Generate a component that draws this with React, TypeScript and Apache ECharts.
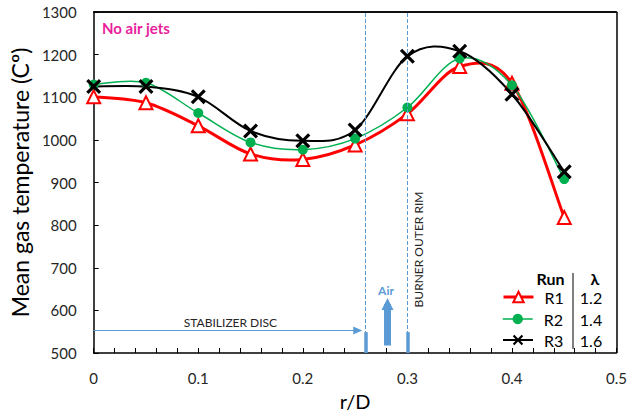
import React, { useEffect, useRef } from "react";
import * as echarts from "echarts";

const xVals = [0, 0.05, 0.1, 0.15, 0.2, 0.25, 0.3, 0.35, 0.4, 0.45];
const r1 = [1101, 1087, 1033, 967, 954, 988, 1061, 1172, 1133, 818];
const r2 = [1130, 1134, 1063, 994, 977, 1003, 1076, 1191, 1128, 908];
const r3 = [1125, 1125, 1101, 1021, 998, 1023, 1196, 1208, 1107, 925];
const runNames = ["R1", "R2", "R3"];
const lambdas = ["1.2", "1.4", "1.6"];
const guideX = [0.26, 0.3];

const FONT = "Lato, 'Open Sans', sans-serif";
const BLUE = "#5b9bd5";
const COLORS = ["#ff0000", "#00b050", "#000000"];
const WIDTHS = [3, 1.5, 2];
const XPATH =
  "path://M0,3 L3,0 L10,7 L17,0 L20,3 L13,10 L20,17 L17,20 L10,13 L3,20 L0,17 L7,10 Z";

// Excel-like smoothed curve (Catmull-Rom, tension 1/6) through library coords
function curveSeries(name: string, ys: number[], color: string, width: number) {
  return {
    name,
    type: "custom",
    silent: true,
    z: 2,
    data: xVals.map((x, i) => [x, ys[i]]),
    encode: { x: 0, y: 1 },
    renderItem: (params: any, api: any) => {
      if (params.dataIndex !== 0) return null;
      const p = xVals.map((x, i) => api.coord([x, ys[i]]));
      let d = `M${p[0][0]},${p[0][1]}`;
      for (let i = 0; i < p.length - 1; i++) {
        const p0 = p[Math.max(0, i - 1)];
        const p1 = p[i];
        const p2 = p[i + 1];
        const p3 = p[Math.min(p.length - 1, i + 2)];
        const c1x = p1[0] + (p2[0] - p0[0]) / 6;
        const c1y = p1[1] + (p2[1] - p0[1]) / 6;
        const c2x = p2[0] - (p3[0] - p1[0]) / 6;
        const c2y = p2[1] - (p3[1] - p1[1]) / 6;
        d += ` C${c1x},${c1y} ${c2x},${c2y} ${p2[0]},${p2[1]}`;
      }
      return {
        type: "path",
        shape: { pathData: d },
        style: { fill: "none", stroke: color, lineWidth: width },
      };
    },
  };
}

export default function App() {
  const ref = useRef<HTMLDivElement>(null);
  useEffect(() => {
    const chart = echarts.init(ref.current!, null, { renderer: "svg" });
    const pairs = (ys: number[]) => xVals.map((x, i) => [x, ys[i]]);
    const rowY = [297, 319, 340];
    const symbols = ["emptyTriangle", "circle", XPATH];
    const sizes = [13, 10, 15];
    const allY = [r1, r2, r3];
    const dashStyle = { color: BLUE, type: "dashed", width: 1 };
    const frameStyle = { color: "#000", type: "solid", width: 1.5 };
    chart.setOption({
      animation: false,
      grid: { left: 90, right: 13, top: 12, bottom: 61 },
      xAxis: [
        {
          type: "value",
          min: 0,
          max: 0.5,
          interval: 0.1,
          name: "r/D",
          nameLocation: "middle",
          nameGap: 38,
          nameTextStyle: { fontSize: 20, color: "#000", fontFamily: FONT },
          axisLine: { onZero: false, lineStyle: { color: "#000", width: 1.5 } },
          axisTick: { inside: true, length: 5, lineStyle: { color: "#000" } },
          minorTick: { show: true, splitNumber: 5, length: 5, lineStyle: { color: "#000" } },
          axisLabel: { fontSize: 15, color: "#262626", fontFamily: FONT, margin: 17 },
          splitLine: { show: false },
        },
        {
          type: "value",
          position: "top",
          min: 0,
          max: 0.5,
          axisLine: { show: true, onZero: false, lineStyle: { color: "#000", width: 1.5 } },
          axisTick: { show: false },
          axisLabel: { show: false },
          splitLine: { show: false },
        },
      ],
      yAxis: {
        type: "value",
        min: 500,
        max: 1300,
        interval: 100,
        name: "Mean gas temperature (Cº)",
        nameLocation: "middle",
        nameGap: 53,
        nameTextStyle: { fontSize: 23, color: "#000", fontFamily: FONT },
        axisLine: { show: true, onZero: false, lineStyle: { color: "#000", width: 1.5 } },
        axisTick: { show: true, inside: true, length: 5, lineStyle: { color: "#000" } },
        axisLabel: {
          fontSize: 15,
          color: "#262626",
          fontFamily: FONT,
          margin: 17,
          formatter: (v: number) => String(v),
        },
        splitLine: { show: false },
      },
      legend: runNames.map((n, i) => ({
        data: [
          {
            name: n,
            lineStyle: { color: COLORS[i], width: WIDTHS[i], opacity: 1 },
          },
        ],
        orient: "vertical",
        left: 502,
        top: rowY[i] - 8,
        padding: 0,
        itemWidth: 30,
        itemHeight: 13,
        textStyle: {
          fontSize: 16,
          color: "#000",
          fontFamily: FONT,
          lineHeight: 16,
          padding: [0, 0, 0, 6],
        },
        selectedMode: false,
      })),
      series: [
        ...runNames.map((n, i) => curveSeries(n + "-curve", allY[i], COLORS[i], WIDTHS[i])),
        ...runNames.map((n, i) => ({
          name: n,
          type: "line",
          data: pairs(allY[i]),
          symbol: symbols[i],
          symbolSize: sizes[i],
          lineStyle: { color: COLORS[i], width: WIDTHS[i], opacity: 0 },
          itemStyle: { color: COLORS[i], borderWidth: i === 0 ? 2 : 0 },
          z: 3 + i,
        })),
        {
          name: "guides",
          type: "line",
          data: [],
          color: BLUE,
          markLine: {
            silent: true,
            symbol: "none",
            label: { show: false },
            lineStyle: dashStyle,
            data: guideX.map((x) => ({ xAxis: x, lineStyle: dashStyle })),
          },
        },
        {
          name: "frame",
          type: "line",
          data: [],
          clip: false,
          markLine: {
            silent: true,
            symbol: "none",
            label: { show: false },
            lineStyle: frameStyle,
            data: [
              { xAxis: 0.5, lineStyle: frameStyle },
              { yAxis: 1300, lineStyle: frameStyle },
            ],
          },
        },
        {
          name: "bars",
          type: "line",
          data: [],
          markLine: {
            silent: true,
            symbol: "none",
            label: { show: false },
            lineStyle: { color: BLUE, type: "solid", width: 3.5 },
            data: guideX.map((x) => [{ coord: [x, 500] }, { coord: [x, 549] }]),
          },
        },
        {
          name: "discArrow",
          type: "line",
          data: [],
          markLine: {
            silent: true,
            symbol: ["none", "triangle"],
            symbolSize: [8, 9],
            label: { show: false },
            lineStyle: { color: BLUE, type: "solid", width: 1 },
            data: [[{ coord: [0, 552.6] }, { coord: [0.2525, 552.6] }]],
          },
        },
        {
          name: "airArrow",
          type: "line",
          data: [],
          markLine: {
            silent: true,
            symbol: ["none", "triangle"],
            symbolSize: [12, 12],
            label: { show: false },
            lineStyle: { color: BLUE, type: "solid", width: 7 },
            data: [[{ coord: [0.281, 517.6] }, { coord: [0.281, 615] }]],
          },
        },
      ],
      graphic: [
        {
          type: "text",
          x: 102,
          y: 28,
          style: {
            text: "No air jets",
            fill: "#e91e9c",
            font: `bold 15px ${FONT}`,
            verticalAlign: "middle",
          },
        },
        {
          type: "text",
          x: 230.5,
          y: 322.7,
          style: {
            text: "STABILIZER DISC",
            fill: "#262626",
            font: `12px ${FONT}`,
            align: "center",
            verticalAlign: "middle",
          },
        },
        {
          type: "text",
          x: 386,
          y: 290.7,
          style: {
            text: "Air",
            fill: BLUE,
            font: `bold 12px ${FONT}`,
            align: "center",
            verticalAlign: "middle",
          },
        },
        {
          type: "text",
          x: 418,
          y: 249.5,
          rotation: Math.PI / 2,
          style: {
            text: "BURNER OUTER RIM",
            fill: "#262626",
            font: `12px ${FONT}`,
            align: "center",
            verticalAlign: "middle",
          },
        },
        {
          type: "text",
          x: 550.5,
          y: 278,
          style: {
            text: "Run",
            fill: "#000",
            font: `bold 16px ${FONT}`,
            align: "center",
            verticalAlign: "middle",
          },
        },
        {
          type: "text",
          x: 595,
          y: 278,
          style: {
            text: "λ",
            fill: "#000",
            font: `bold 16px ${FONT}`,
            align: "center",
            verticalAlign: "middle",
          },
        },
        {
          type: "line",
          shape: { x1: 573, y1: 273, x2: 573, y2: 349 },
          style: { stroke: "#000", lineWidth: 1 },
        },
        ...lambdas.map((t, i) => ({
          type: "text",
          x: 591,
          y: rowY[i],
          style: {
            text: t,
            fill: "#000",
            font: `16px ${FONT}`,
            align: "center",
            verticalAlign: "middle",
          },
        })),
      ],
    });
    return () => chart.dispose();
  }, []);
  return (
    <div
      ref={ref}
      style={{ position: "absolute", left: 0, top: 0, width: 630, height: 416 }}
    />
  );
}
